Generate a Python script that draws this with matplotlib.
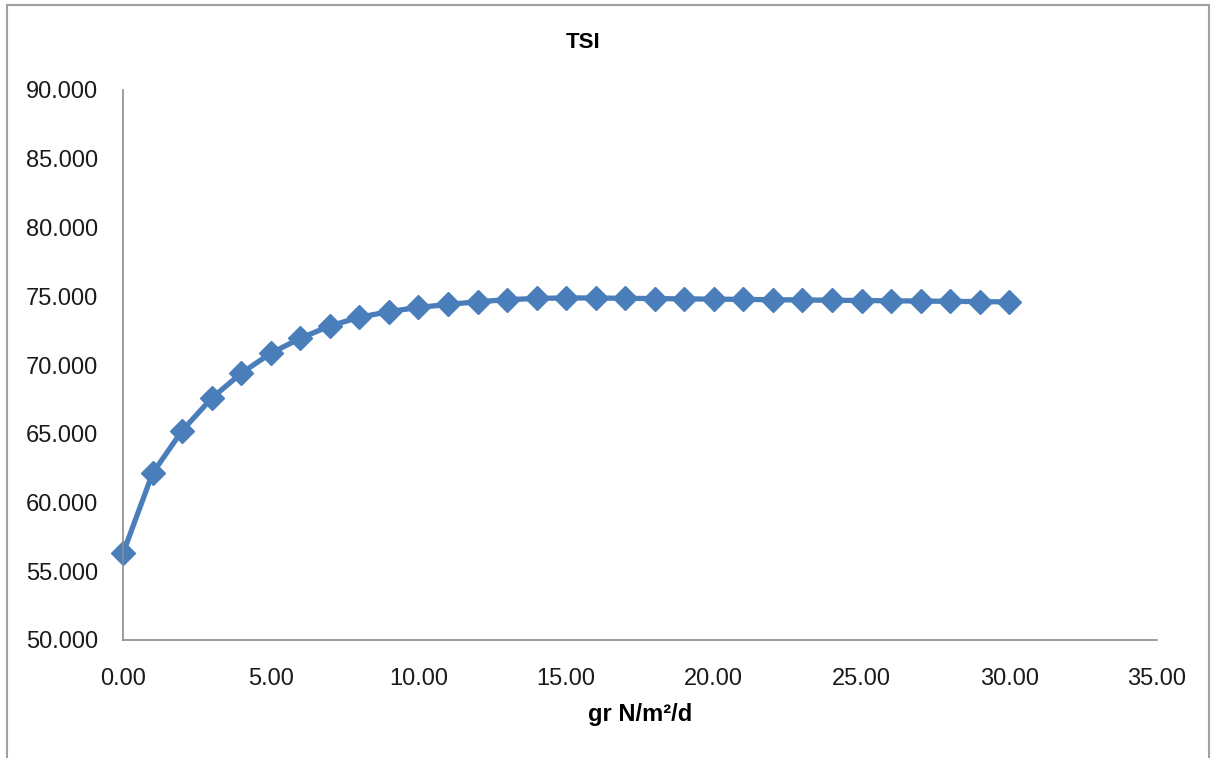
import numpy as np
import matplotlib.pyplot as pl
from matplotlib.lines import Line2D

# gr N/m2/d vs TSI
x_vals = list(range(0, 31))
tsi = [56.30, 62.12, 65.22, 67.58, 69.40, 70.85, 71.94, 72.84, 73.47, 73.88,
       74.19, 74.40, 74.60, 74.75, 74.84, 74.88, 74.87, 74.85, 74.83, 74.81,
       74.79, 74.77, 74.75, 74.73, 74.71, 74.69, 74.67, 74.65, 74.63, 74.61,
       74.59]
x_ticks = [0, 5, 10, 15, 20, 25, 30, 35]
y_ticks = [50, 55, 60, 65, 70, 75, 80, 85, 90]

pl.rcParams['font.family'] = ['Liberation Sans', 'DejaVu Sans']

W, H = 1213, 758
fig = pl.figure(figsize=(W / 100, H / 100), dpi=100)
ax = fig.add_axes([123 / W, 1 - 640 / H, (1157 - 123) / W, (640 - 90) / H])

col = '#4a7ebb'
ax.plot(x_vals, tsi, '-', color=col, lw=3.8, marker='D', ms=12,
        mfc=col, mec=col, clip_on=False)

ax.set_xlim(0, 35)
ax.set_ylim(50, 90)
ax.set_xticks(x_ticks)
ax.set_xticklabels(['{:.2f}'.format(v) for v in x_ticks])
ax.set_yticks(y_ticks)
ax.set_yticklabels(['{:.3f}'.format(v) for v in y_ticks])
ax.tick_params(axis='both', length=0, labelsize=17, colors='#1a1a1a')
ax.tick_params(axis='y', pad=18)
ax.tick_params(axis='x', pad=20)
for s in ['top', 'right']:
    ax.spines[s].set_visible(False)
for s in ['left', 'bottom']:
    ax.spines[s].set_color('#8c8c8c')
    ax.spines[s].set_linewidth(1.2)

ax.set_xlabel('gr N/m²/d', fontsize=17, fontweight='bold')
ax.xaxis.set_label_coords(0.5, -(715 - 640) / (640 - 90))
ax.xaxis.label.set_va('center')
fig.text(583 / W, 1 - 43 / H, 'TSI', ha='center', va='center',
         fontsize=16, fontweight='bold')

# outer chart frame
fc = '#a0a0a0'
x0, x1, y1 = 7 / W, 1209 / W, 1 - 5 / H
fig.add_artist(Line2D([x0, x0], [0, y1], color=fc, lw=1.5, transform=fig.transFigure))
fig.add_artist(Line2D([x0, x1], [y1, y1], color=fc, lw=1.5, transform=fig.transFigure))
fig.add_artist(Line2D([x1, x1], [0, y1], color=fc, lw=1.5, transform=fig.transFigure))

fig.savefig('out.png', dpi=100)
